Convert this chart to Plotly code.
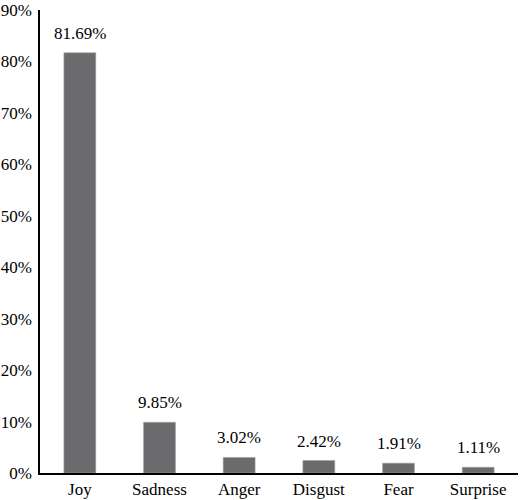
import plotly.graph_objects as go

categories = ["Joy", "Sadness", "Anger", "Disgust", "Fear", "Surprise"]
values = [81.69, 9.85, 3.02, 2.42, 1.91, 1.11]
labels = ["81.69%", "9.85%", "3.02%", "2.42%", "1.91%", "1.11%"]
y_ticks = [0, 10, 20, 30, 40, 50, 60, 70, 80, 90]
y_tick_labels = ["0%", "10%", "20%", "30%", "40%", "50%", "60%", "70%", "80%", "90%"]

font = dict(family="Liberation Serif, Times New Roman, serif", size=17, color="black")

fig = go.Figure(go.Bar(
    x=categories,
    y=values,
    marker=dict(color="#6b6b6d", line=dict(color="#a0a0a0", width=0.6)),
))

for c, v, t in zip(categories, values, labels):
    fig.add_annotation(x=c, y=v, text=t, showarrow=False, yanchor="bottom",
                       yshift=8, font=font)

fig.update_layout(
    width=520, height=500,
    margin=dict(l=40, r=2, t=10, b=27, autoexpand=False),
    paper_bgcolor="white", plot_bgcolor="white",
    bargap=0.6,
    font=font,
    showlegend=False,
    xaxis=dict(showline=True, linecolor="black", linewidth=1.5, ticks="", ticklen=0,
               showgrid=False, tickfont=font, zeroline=False, automargin=False,
               ticklabelstandoff=0),
    yaxis=dict(range=[0, 90], tickvals=y_ticks, ticktext=y_tick_labels,
               showline=True, linecolor="black", linewidth=1.5, ticks="", ticklen=0,
               showgrid=False, zeroline=False, tickfont=font, ticklabelstandoff=3,
               automargin=False),
)

fig.write_html("out.html", config={"displayModeBar": False},
               post_script="document.body.style.margin='0';")
